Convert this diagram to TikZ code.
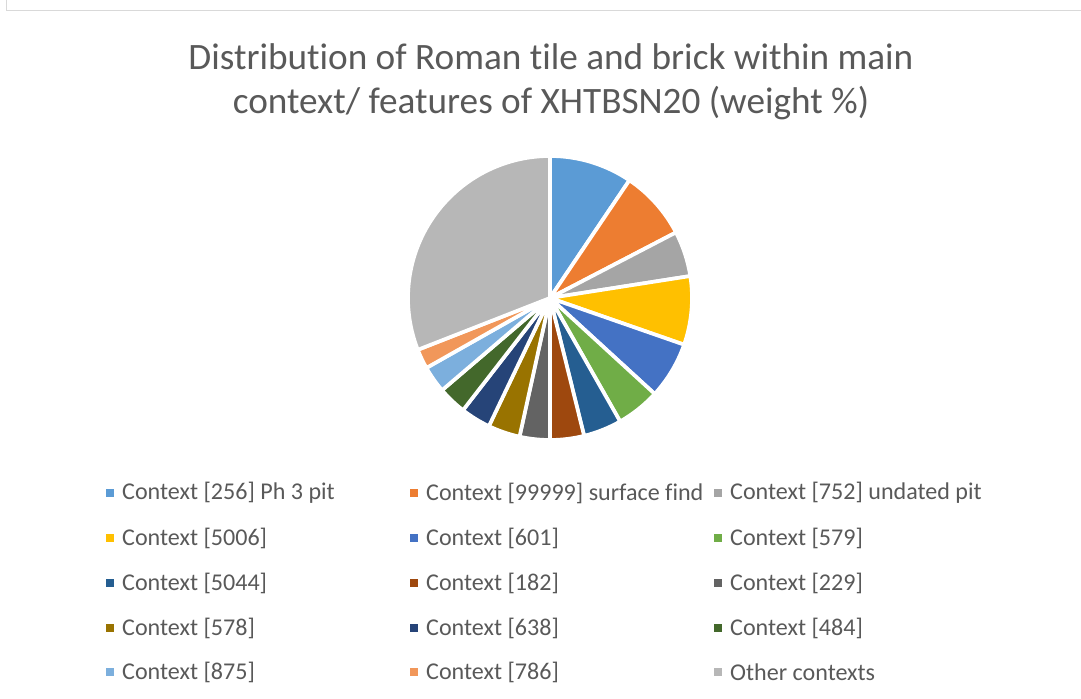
\documentclass[tikz,border=0pt]{standalone}
\usepackage{fontspec}
\setmainfont{Carlito}[Ligatures=NoCommon]
\usetikzlibrary{positioning}
\definecolor{ctxA}{HTML}{5B9BD5}
\definecolor{ctxB}{HTML}{ED7D31}
\definecolor{ctxC}{HTML}{A5A5A5}
\definecolor{ctxD}{HTML}{FFC000}
\definecolor{ctxE}{HTML}{4472C4}
\definecolor{ctxF}{HTML}{70AD47}
\definecolor{ctxG}{HTML}{255E91}
\definecolor{ctxH}{HTML}{9E480E}
\definecolor{ctxI}{HTML}{636363}
\definecolor{ctxJ}{HTML}{997300}
\definecolor{ctxK}{HTML}{264478}
\definecolor{ctxL}{HTML}{43682B}
\definecolor{ctxM}{HTML}{7CAFDD}
\definecolor{ctxN}{HTML}{F1975A}
\definecolor{ctxO}{HTML}{B7B7B7}
\definecolor{txtGrey}{HTML}{595959}
\definecolor{frameGrey}{HTML}{D9D9D9}

\begin{document}
\begin{tikzpicture}[
  x=0.02cm, y=0.02cm,
  font=\fontsize{13.7pt}{16pt}\selectfont, text=txtGrey,
  wedge/.style={draw=white, line width=2.1pt, line join=round},
  legsq/.style={minimum size=0.16cm, inner sep=0pt, draw=none},
  legtxt/.style={anchor=west, inner sep=0pt},
  charttitle/.style={align=center, font=\fontsize{21.2pt}{25pt}\selectfont},
  frame/.style={frameGrey, line width=0.9pt},
]
\useasboundingbox (0,0) rectangle (1081,699);

% one legend entry: #1 id, #2 x, #3 y, #4 colour, #5 text
\newcommand{\legitem}[5]{%
  \node[legsq, fill=#4] (sq#1) at (#2,#3) {};
  \node[legtxt, right=0.15cm of sq#1] (lb#1) {#5};
}

% chart area frame (only top and left edges visible)
\draw[frame] (6.5,699) -- (6.5,688.5) -- (1081,688.5);

\node[charttitle] (title) at (551,617)
  {Distribution of Roman tile and brick within main\\context/ features of XHTBSN20 (weight \%)};

% ======================= pie =======================
\coordinate (c) at (550,401);
\foreach \a/\b/\c in {0/34/ctxA, 34/62.5/ctxB, 62.5/81.1/ctxC, 81.1/109.2/ctxD,
    109.2/132.5/ctxE, 132.5/150.4/ctxF, 150.4/166.1/ctxG, 166.1/180/ctxH,
    180/192.4/ctxI, 192.4/205.5/ctxJ, 205.5/217.8/ctxK, 217.8/229.5/ctxL,
    229.5/240.5/ctxM, 240.5/248.6/ctxN, 248.6/360/ctxO}
  \filldraw[wedge, fill=\c] (c) -- ++({90-\a}:142)
    arc[start angle={90-\a}, end angle={90-\b}, radius=142] -- cycle;

% ======================= legend =======================
\legitem{1}{110}{206}{ctxA}{Context [256] Ph 3 pit}
\legitem{2}{414}{206}{ctxB}{Context [99999] surface find}
\legitem{3}{718}{206}{ctxC}{Context [752] undated pit}
\legitem{4}{110}{161}{ctxD}{Context [5006]}
\legitem{5}{414}{161}{ctxE}{Context [601]}
\legitem{6}{718}{161}{ctxF}{Context [579]}
\legitem{7}{110}{116}{ctxG}{Context [5044]}
\legitem{8}{414}{116}{ctxH}{Context [182]}
\legitem{9}{718}{116}{ctxI}{Context [229]}
\legitem{10}{110}{71}{ctxJ}{Context [578]}
\legitem{11}{414}{71}{ctxK}{Context [638]}
\legitem{12}{718}{71}{ctxL}{Context [484]}
\legitem{13}{110}{27}{ctxM}{Context [875]}
\legitem{14}{414}{27}{ctxN}{Context [786]}
\legitem{15}{718}{27}{ctxO}{Other contexts}

\end{tikzpicture}
\end{document}
